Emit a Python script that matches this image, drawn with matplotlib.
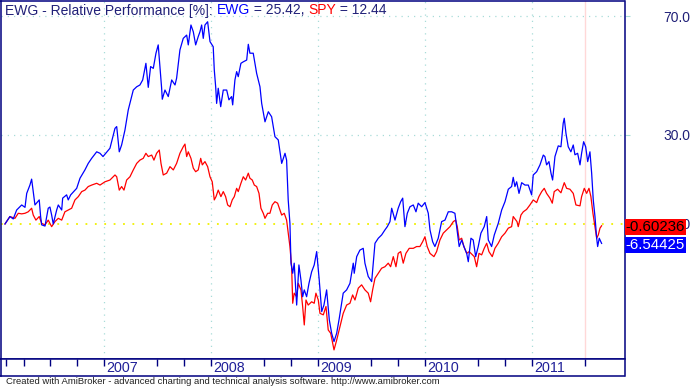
#!/usr/bin/env python3
# Relative performance chart EWG vs SPY, AmiBroker style
import matplotlib
matplotlib.use("Agg")
import matplotlib.pyplot as plt

plt.rcParams["font.family"] = ["Liberation Sans", "DejaVu Sans"]

# ---- data (time in decimal years, values in %) ----
ewg_t = [2006.075, 2006.121, 2006.152, 2006.184, 2006.231, 2006.262, 2006.278, 2006.308, 2006.324, 2006.339,
         2006.355, 2006.371, 2006.395, 2006.408, 2006.418, 2006.449, 2006.479, 2006.495, 2006.511, 2006.526,
         2006.558, 2006.573, 2006.605, 2006.614, 2006.651, 2006.666, 2006.689, 2006.745, 2006.776, 2006.822,
         2006.853, 2006.885, 2006.932, 2006.963, 2006.991, 2007.056, 2007.103, 2007.119, 2007.143, 2007.165,
         2007.196, 2007.227, 2007.274, 2007.306, 2007.336, 2007.362, 2007.392, 2007.414, 2007.436, 2007.461,
         2007.486, 2007.507, 2007.539, 2007.545, 2007.570, 2007.601, 2007.633, 2007.664, 2007.679, 2007.710,
         2007.741, 2007.773, 2007.788, 2007.813, 2007.835, 2007.857, 2007.881, 2007.897, 2007.913, 2007.928,
         2007.944, 2007.969, 2007.991, 2008.021, 2008.031, 2008.044, 2008.053, 2008.068, 2008.091, 2008.115,
         2008.147, 2008.168, 2008.193, 2008.203, 2008.224, 2008.240, 2008.255, 2008.280, 2008.302, 2008.334,
         2008.349, 2008.364, 2008.395, 2008.427, 2008.458, 2008.474, 2008.505, 2008.536, 2008.567, 2008.598,
         2008.629, 2008.661, 2008.692, 2008.707, 2008.722, 2008.738, 2008.748, 2008.764, 2008.778, 2008.801,
         2008.822, 2008.841, 2008.857, 2008.872, 2008.894, 2008.916, 2008.941, 2008.965, 2008.988, 2009.012,
         2009.035, 2009.056, 2009.081, 2009.106, 2009.128, 2009.150, 2009.175, 2009.199, 2009.236, 2009.268,
         2009.299, 2009.330, 2009.339, 2009.362, 2009.392, 2009.423, 2009.439, 2009.470, 2009.502, 2009.533,
         2009.564, 2009.595, 2009.626, 2009.648, 2009.673, 2009.689, 2009.720, 2009.750, 2009.773, 2009.792,
         2009.813, 2009.835, 2009.860, 2009.891, 2009.916, 2009.937, 2009.969, 2010.000, 2010.031, 2010.047,
         2010.072, 2010.093, 2010.124, 2010.156, 2010.187, 2010.218, 2010.250, 2010.280, 2010.296, 2010.320,
         2010.343, 2010.364, 2010.390, 2010.405, 2010.430, 2010.451, 2010.474, 2010.498, 2010.523, 2010.554,
         2010.577, 2010.592, 2010.623, 2010.648, 2010.685, 2010.717, 2010.748, 2010.779, 2010.810, 2010.825,
         2010.841, 2010.857, 2010.879, 2010.904, 2010.935, 2010.966, 2010.997, 2011.012, 2011.044, 2011.075,
         2011.106, 2011.121, 2011.137, 2011.159, 2011.178, 2011.193, 2011.215, 2011.246, 2011.271, 2011.292,
         2011.302, 2011.318, 2011.339, 2011.364, 2011.386, 2011.402, 2011.427, 2011.449, 2011.464, 2011.483,
         2011.502, 2011.521, 2011.542, 2011.558, 2011.573, 2011.589, 2011.605, 2011.614, 2011.629, 2011.651]
ewg_v = [0.0, 2.5, 1.7, 4.7, 6.4, 5.6, 10.3, 13.1, 15.1, 10.9,
         6.4, 7.1, 8.1, 2.5, -0.3, -0.7, 5.3, 5.7, 3.0, 0.0,
         4.7, 6.4, 4.7, 8.7, 9.8, 8.1, 9.8, 12.0, 15.4, 18.2,
         20.4, 22.1, 24.3, 23.8, 22.7, 25.5, 32.2, 32.8, 24.3, 26.6,
         31.6, 38.4, 45.1, 46.2, 46.8, 48.5, 54.1, 46.0, 53.0, 52.4,
         57.5, 60.3, 45.7, 42.0, 45.1, 42.9, 48.5, 46.8, 49.1, 58.6,
         62.5, 63.6, 60.3, 67.0, 64.7, 60.3, 63.1, 64.7, 67.0, 62.5,
         67.0, 68.1, 61.4, 59.7, 51.9, 46.2, 40.6, 45.7, 39.5, 45.1,
         45.1, 41.8, 42.9, 40.1, 48.5, 51.3, 49.6, 54.1, 54.6, 55.2,
         60.5, 57.5, 57.5, 50.7, 46.2, 40.6, 34.4, 37.8, 36.1, 29.4,
         28.3, 20.4, 23.8, 21.5, 8.1, 0.2, -13.2, -16.6, -13.2, -27.3,
         -13.8, -18.9, -24.5, -22.2, -24.5, -20.0, -16.1, -13.8, -9.3, -18.9,
         -29.5, -27.3, -22.2, -32.3, -36.8, -39.6, -36.8, -31.8, -23.3, -22.2,
         -20.0, -13.2, -16.6, -11.0, -8.8, -8.2, -13.2, -17.7, -19.4, -6.5,
         -4.8, -3.7, -2.0, -0.9, 0.8, 5.3, 1.3, 5.3, 7.5, 8.7,
         -0.9, 3.6, 5.8, 6.4, 4.1, 7.0, 5.8, 7.2, 3.6, -2.0,
         -6.0, -7.6, -4.8, 0.8, 1.3, 4.1, 4.1, 3.6, -0.9, -7.6,
         -5.4, -7.6, -9.9, -12.7, -4.8, -5.4, -11.0, -7.6, -3.1, -0.9,
         2.5, -5.4, -7.6, -3.7, 0.2, 4.7, 7.5, 11.7, 12.6, 15.7,
         12.6, 14.2, 10.3, 13.9, 13.1, 13.1, 9.8, 16.5, 17.6, 19.9,
         23.2, 22.7, 19.9, 21.0, 17.1, 14.8, 22.7, 26.3, 26.0, 33.9,
         35.6, 30.5, 26.0, 24.3, 26.6, 23.3, 23.8, 19.9, 23.8, 27.7,
         26.0, 21.0, 24.3, 17.1, 8.1, 2.5, -4.8, -7.6, -4.8, -6.54425]

spy_t = [2006.075, 2006.121, 2006.168, 2006.199, 2006.231, 2006.262, 2006.292, 2006.324, 2006.339, 2006.364,
         2006.395, 2006.418, 2006.449, 2006.479, 2006.511, 2006.542, 2006.573, 2006.605, 2006.635, 2006.666,
         2006.698, 2006.729, 2006.760, 2006.792, 2006.822, 2006.853, 2006.885, 2006.932, 2006.963, 2007.009,
         2007.056, 2007.103, 2007.119, 2007.143, 2007.165, 2007.187, 2007.212, 2007.243, 2007.274, 2007.306,
         2007.336, 2007.367, 2007.392, 2007.414, 2007.446, 2007.467, 2007.492, 2007.517, 2007.533, 2007.554,
         2007.586, 2007.617, 2007.648, 2007.679, 2007.710, 2007.741, 2007.757, 2007.773, 2007.788, 2007.813,
         2007.835, 2007.857, 2007.881, 2007.904, 2007.919, 2007.944, 2007.969, 2007.991, 2008.012, 2008.031,
         2008.047, 2008.068, 2008.093, 2008.115, 2008.137, 2008.156, 2008.178, 2008.199, 2008.218, 2008.240,
         2008.255, 2008.280, 2008.302, 2008.324, 2008.349, 2008.364, 2008.386, 2008.405, 2008.427, 2008.449,
         2008.467, 2008.489, 2008.505, 2008.530, 2008.551, 2008.573, 2008.598, 2008.623, 2008.645, 2008.661,
         2008.685, 2008.707, 2008.722, 2008.738, 2008.754, 2008.764, 2008.778, 2008.801, 2008.816, 2008.841,
         2008.857, 2008.872, 2008.888, 2008.909, 2008.941, 2008.965, 2008.981, 2009.003, 2009.019, 2009.050,
         2009.075, 2009.096, 2009.119, 2009.150, 2009.175, 2009.206, 2009.236, 2009.268, 2009.299, 2009.324,
         2009.346, 2009.377, 2009.408, 2009.439, 2009.470, 2009.492, 2009.511, 2009.533, 2009.564, 2009.595,
         2009.626, 2009.657, 2009.679, 2009.704, 2009.729, 2009.750, 2009.773, 2009.797, 2009.822, 2009.853,
         2009.891, 2009.922, 2009.953, 2009.978, 2010.000, 2010.021, 2010.047, 2010.084, 2010.109, 2010.140,
         2010.171, 2010.203, 2010.234, 2010.265, 2010.287, 2010.302, 2010.320, 2010.343, 2010.364, 2010.390,
         2010.414, 2010.430, 2010.461, 2010.483, 2010.505, 2010.530, 2010.554, 2010.577, 2010.598, 2010.629,
         2010.654, 2010.685, 2010.717, 2010.748, 2010.779, 2010.810, 2010.825, 2010.860, 2010.872, 2010.897,
         2010.919, 2010.950, 2010.981, 2011.012, 2011.044, 2011.065, 2011.091, 2011.115, 2011.137, 2011.168,
         2011.190, 2011.208, 2011.240, 2011.271, 2011.302, 2011.324, 2011.355, 2011.386, 2011.411, 2011.449,
         2011.464, 2011.489, 2011.511, 2011.533, 2011.551, 2011.570, 2011.589, 2011.605, 2011.620, 2011.636,
         2011.651]
spy_v = [0.0, 2.5, 1.9, 3.6, 3.4, 3.6, 4.1, 5.3, 3.0, 1.3,
         2.5, 0.2, -0.3, 1.3, -0.9, 0.8, 1.9, 1.3, 4.1, 4.7,
         5.3, 8.1, 9.2, 10.9, 11.4, 12.6, 13.1, 13.7, 13.1, 14.2,
         14.8, 16.5, 15.9, 11.4, 12.6, 11.4, 14.8, 15.9, 18.2, 20.4,
         21.5, 22.1, 23.8, 22.7, 23.2, 21.5, 23.8, 24.9, 20.4, 16.5,
         17.1, 19.3, 18.2, 20.4, 23.8, 26.0, 26.9, 22.7, 24.3, 22.1,
         18.8, 17.6, 18.2, 22.1, 19.9, 21.0, 19.3, 15.9, 14.2, 8.1,
         9.2, 11.4, 9.2, 10.9, 9.2, 6.4, 5.8, 8.1, 9.2, 12.0,
         10.9, 13.7, 15.9, 14.8, 17.1, 15.4, 14.8, 13.1, 12.6, 10.3,
         5.3, 3.6, 1.9, 3.6, 3.6, 6.4, 7.5, 7.0, 4.7, 3.0,
         3.6, 1.3, -3.1, -7.6, -14.4, -26.7, -23.3, -24.5, -20.0, -22.2,
         -27.8, -34.0, -25.6, -27.3, -26.2, -26.7, -23.3, -25.6, -30.1, -30.6,
         -27.8, -35.7, -36.8, -42.4, -39.1, -34.6, -30.1, -27.3, -26.7, -23.9,
         -25.6, -21.6, -20.5, -22.2, -23.3, -26.2, -22.2, -18.3, -16.6, -14.9,
         -14.4, -13.2, -14.4, -11.0, -14.4, -9.9, -9.3, -13.2, -9.9, -8.2,
         -8.2, -7.6, -7.6, -6.0, -4.3, -7.6, -9.9, -11.0, -9.3, -5.4,
         -3.1, -2.0, -0.9, 0.8, 1.3, -0.9, -5.4, -4.8, -7.6, -9.9,
         -9.3, -9.9, -11.0, -14.4, -9.9, -10.4, -8.2, -6.5, -9.3, -11.0,
         -8.2, -6.5, -4.3, -3.1, -1.4, -0.9, 2.5, 0.8, -0.9, 3.0,
         4.1, 4.9, 6.4, 8.1, 7.2, 9.2, 10.9, 12.0, 10.3, 8.7,
         7.0, 10.9, 11.7, 10.5, 13.9, 12.0, 11.7, 10.3, 6.4, 6.1,
         9.2, 12.0, 10.3, 12.0, 9.2, 3.6, -0.9, -4.8, -3.7, -1.4,
         -0.60236]

ewg_last = -6.54425
spy_last = -0.60236
selected_date = 2011.495
title_parts = [("EWG - Relative Performance [%]: ", "#202078"), ("EWG", "#0000ff"),
               (" = 25.42, ", "#202078"), ("SPY", "#ff0000"), (" = 12.44", "#202078")]
y_ticks = [0, 30, 70]
y_tick_labels = ["0.0", "30.0", "70.0"]
years = [2007, 2008, 2009, 2010, 2011]
x_ticks = [2006.085, 2006.25, 2006.5, 2006.75, 2007, 2007.5, 2007.75, 2008, 2008.5, 2008.75,
           2009, 2009.5, 2009.75, 2010, 2010.5, 2010.75, 2011, 2011.5]
footer = "Created with AmiBroker - advanced charting and technical analysis software. http://www.amibroker.com"

# ---- layout (pixels) ----
W, H = 693, 387
navy = "#000080"
grid_c = "#a8dcd8"

def px_box(x0, y0, x1, y1):
    return [x0 / W, 1 - y1 / H, (x1 - x0) / W, (y1 - y0) / H]

fig = plt.figure(figsize=(W / 100, H / 100), dpi=100)
fig.patch.set_facecolor("white")

ax = fig.add_axes(px_box(0.5, 0.5, 624.5, 358.5))
ax.set_xlim(2006.033, 2011.865)
ax.set_ylim(-45.3, 75.25)

for sp in ax.spines.values():
    sp.set_color(navy)
    sp.set_linewidth(1.1)

# grid
for yv in [30, 70]:
    ax.axhline(yv, color=grid_c, lw=0.9, dashes=(1, 4), zorder=1)
for yr in years:
    ax.axvline(yr, color=grid_c, lw=0.9, dashes=(1, 4), zorder=1)
ax.axhline(0, color="#f0f000", lw=1.3, dashes=(1, 4.2), zorder=1)
ax.axvline(selected_date, color="#ffd8d8", lw=1.0, zorder=1)

ax.plot(spy_t, spy_v, color="#ff0000", lw=0.9, zorder=3)
ax.plot(ewg_t, ewg_v, color="#0000ff", lw=0.9, zorder=4)

ax.set_xticks([])
ax.yaxis.tick_right()
ax.set_yticks(y_ticks)
ax.set_yticklabels(y_tick_labels)
ax.tick_params(axis="y", direction="out", length=3.5, color=grid_c, pad=44,
               labelsize=10, labelcolor="#202078")
for lab in ax.get_yticklabels():
    lab.set_horizontalalignment("right")

# last value boxes (drawn over the 0.0 label, as in the original)
ax.text(1.0015, spy_last - 0.3, "%.5f" % spy_last, transform=ax.get_yaxis_transform(),
        ha="left", va="center", fontsize=10.8, color="black", clip_on=False, zorder=10,
        bbox=dict(boxstyle="square,pad=0.06", fc="#ff0000", ec="none"))
ax.text(1.0015, ewg_last - 0.6, "%.5f" % ewg_last, transform=ax.get_yaxis_transform(),
        ha="left", va="center", fontsize=10.8, color="white", clip_on=False, zorder=10,
        bbox=dict(boxstyle="square,pad=0.06", fc="#0000ff", ec="none"))

# date axis band
bx = fig.add_axes(px_box(0.5, 358.5, 624.5, 375.5))
bx.set_xlim(ax.get_xlim())
bx.set_ylim(0, 1)
bx.set_yticks([])
for sp in bx.spines.values():
    sp.set_color(navy)
    sp.set_linewidth(1.1)
bx.xaxis.tick_top()
bx.set_xticks(x_ticks)
bx.set_xticklabels([])
bx.tick_params(axis="x", direction="in", length=5, width=1, color=navy)
for yr in years:
    bx.annotate(str(yr), (yr, 0.45), xytext=(1.5, 0), textcoords="offset points",
                ha="left", va="center", fontsize=10.3, color="#202098")

# title in coloured pieces
renderer = fig.canvas.get_renderer()
xpos = 5
for s, c in title_parts:
    t = fig.text(xpos / W, 1 - 10.5 / H, s, color=c, fontsize=10, ha="left", va="center")
    bb = t.get_window_extent(renderer)
    xpos = bb.x1

fig.text(6 / W, 1 - 381 / H, footer, fontsize=6.8, color="#222222", ha="left", va="center")

fig.savefig("out.png", dpi=100)
